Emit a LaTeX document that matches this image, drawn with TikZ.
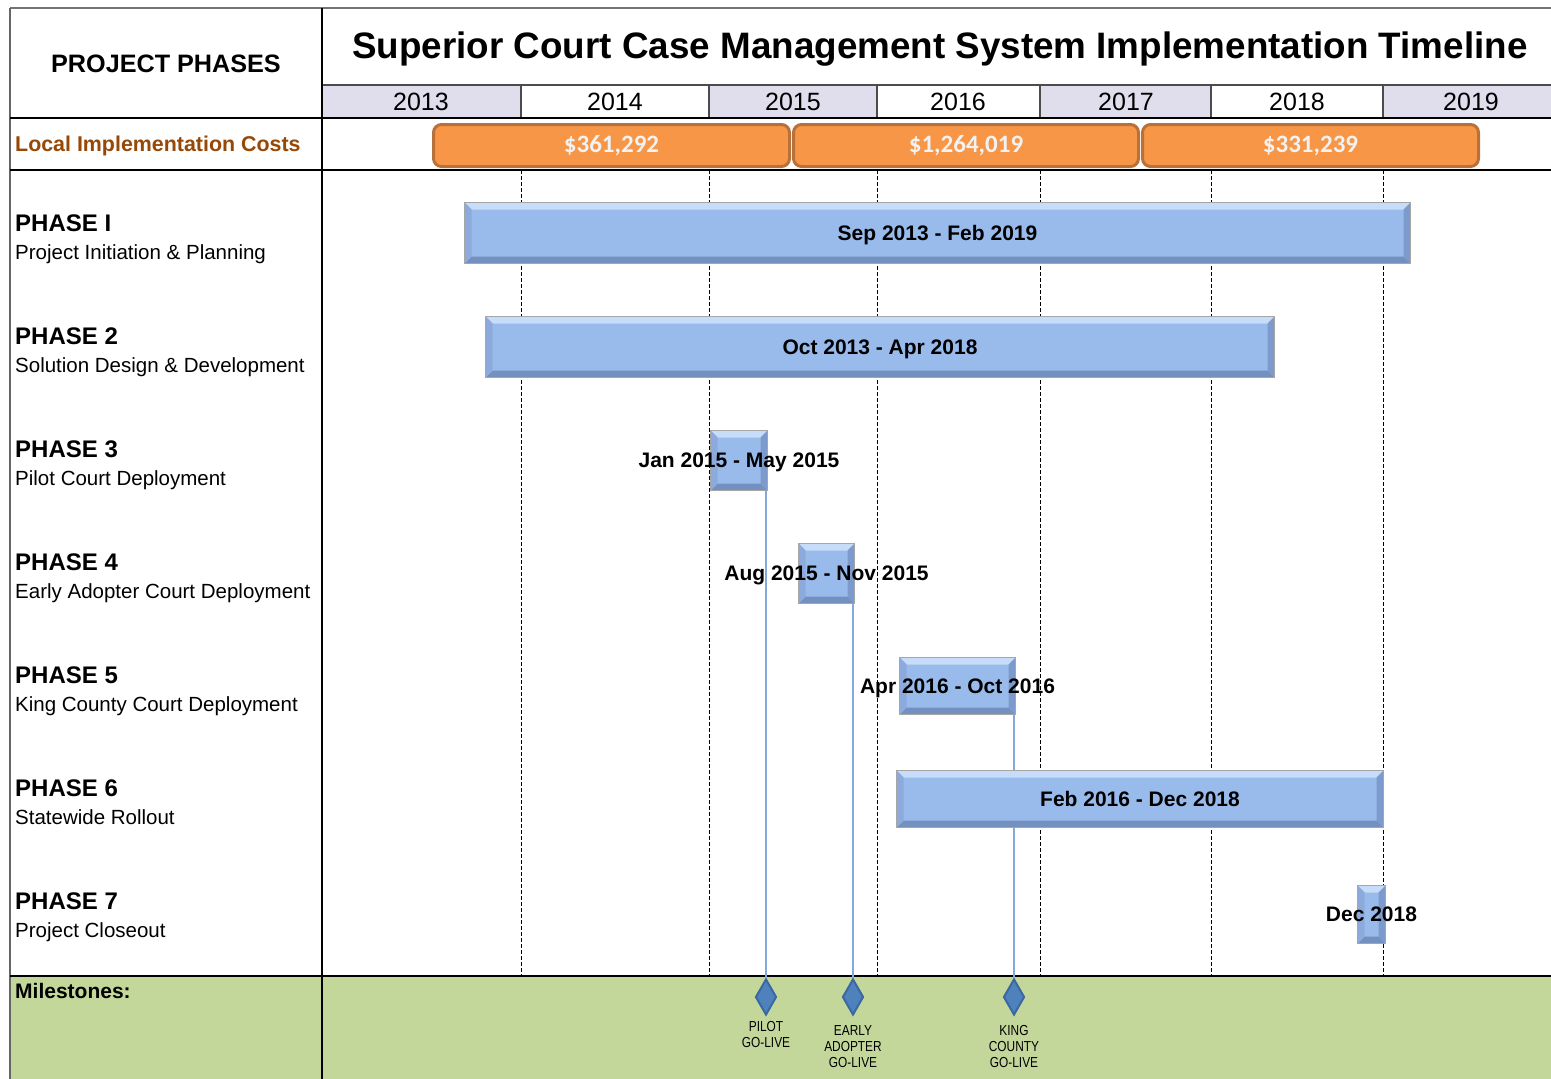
\documentclass[tikz,border=0pt]{standalone}
\usepackage{fontspec}
\setmainfont{Liberation Sans}
\newfontfamily\narrowfont{Liberation Sans}[FakeStretch=0.82]
\newfontfamily\costfont{Carlito}
\usetikzlibrary{shapes.geometric,calc}

\definecolor{yearshade}{HTML}{E0DEEC}
\definecolor{costfill}{HTML}{F79646}
\definecolor{costedge}{HTML}{B8713A}
\definecolor{costtext}{HTML}{F2F2F2}
\definecolor{costlabel}{HTML}{984806}
\definecolor{barblue}{HTML}{99BBEC}
\definecolor{barlight}{HTML}{C6DCF8}
\definecolor{bardark}{HTML}{7390BE}
\definecolor{barleft}{HTML}{8CABDC}
\definecolor{barright}{HTML}{7C9ACB}
\definecolor{msgreen}{HTML}{C4D79B}
\definecolor{msblue}{HTML}{4F81BD}
\definecolor{msedge}{HTML}{3B68A3}
\definecolor{linkblue}{HTML}{82A8DC}

\tikzset{
  rule/.style={line width=1.5pt, black},
  cellrule/.style={line width=1.2pt, black!70},
  grid/.style={line width=1pt, black, dash pattern=on 4pt off 2pt},
  phasebar/.style={draw=black!35, line width=1pt, fill=barblue, inner sep=0pt,
    anchor=north west,
    path picture={
      \coordinate (bvnw) at (path picture bounding box.north west);
      \coordinate (bvne) at (path picture bounding box.north east);
      \coordinate (bvsw) at (path picture bounding box.south west);
      \coordinate (bvse) at (path picture bounding box.south east);
      \fill[barlight] (bvnw) -- (bvne) -- ($(bvne)+(-7pt,-7pt)$) -- ($(bvnw)+(7pt,-7pt)$) -- cycle;
      \fill[bardark] (bvsw) -- (bvse) -- ($(bvse)+(-7pt,7pt)$) -- ($(bvsw)+(7pt,7pt)$) -- cycle;
      \fill[barleft] (bvnw) -- ($(bvnw)+(7pt,-7pt)$) -- ($(bvsw)+(7pt,7pt)$) -- (bvsw) -- cycle;
      \fill[barright] (bvne) -- ($(bvne)+(-7pt,-7pt)$) -- ($(bvse)+(-7pt,7pt)$) -- (bvse) -- cycle;
    }},
  barlabel/.style={font=\bfseries\fontsize{21}{25}\selectfont, inner sep=0pt, anchor=base},
  costbar/.style={draw=costedge, line width=3pt, fill=costfill, rounded corners=8pt,
    inner sep=0pt, anchor=north west, text=costtext,
    font=\costfont\bfseries\fontsize{25}{30}\selectfont},
  yeartext/.style={font=\fontsize{25}{30}\selectfont, inner sep=0pt, anchor=base},
  phasehead/.style={font=\bfseries\fontsize{24}{28}\selectfont, inner sep=0pt, anchor=base west},
  phasesub/.style={font=\fontsize{20.5}{24}\selectfont, inner sep=0pt, anchor=base west},
  milestone/.style={diamond, draw=msedge, line width=2pt, fill=msblue, inner sep=0pt,
    minimum width=21pt, minimum height=36pt},
  mstext/.style={font=\narrowfont\fontsize{14.5}{16}\selectfont, align=center,
    inner sep=0pt, anchor=north},
  link/.style={linkblue, line width=1.5pt},
}

% Bar from (x1,y1) to (x2,y2), in pixel-like units, with a centred label
\newcommand\phasebar[6]{%
  \node[phasebar, minimum width={#4-#2}, minimum height={#5-#3}] (#1) at (#2,#3) {};
  \node[barlabel] (#1-label) at ($(#1.center)+(0,-7pt)$) {#6};
}

\begin{document}
\begin{tikzpicture}[x=1pt, y=-1pt]
  \useasboundingbox (0,0) rectangle (1551,1079);
  \fill[white] (0,0) rectangle (1551,1079);

  % year header band
  \fill[yearshade] (322,85) rectangle (521,118);
  \fill[yearshade] (709,85) rectangle (877,118);
  \fill[yearshade] (1040,85) rectangle (1211,118);
  \fill[yearshade] (1383,85) rectangle (1551,118);
  \draw[cellrule] (322,85) -- (1551,85);
  \foreach \xb in {521,709,877,1040,1211,1383}
    \draw[cellrule] (\xb,85) -- (\xb,118);

  % milestone band
  \fill[msgreen] (10,976) rectangle (1551,1079);

  % year gridlines
  \foreach \xb in {521,709,877,1040,1211,1383}
    \draw[grid] (\xb,170) -- (\xb,976);

  % table frame
  \draw[line width=1.2pt, black!55] (10,8) -- (1551,8);
  \draw[line width=1.2pt, black!60] (10,8) -- (10,1079);
  \draw[rule] (322,8) -- (322,1079);
  \draw[rule] (10,118) -- (1551,118);
  \draw[rule] (10,170) -- (1551,170);
  \draw[rule] (10,976) -- (1551,976);

  % headings
  \node[font=\bfseries\fontsize{25.2}{29}\selectfont, inner sep=0pt, anchor=base] (hdr) at (166,72) {PROJECT PHASES};
  \node[font=\bfseries\fontsize{36.8}{42}\selectfont, inner sep=0pt, anchor=base] (title) at (940,58)
    {Superior Court Case Management System Implementation Timeline};

  \node[yeartext] (y2013) at (421,110) {2013};
  \node[yeartext] (y2014) at (615,110) {2014};
  \node[yeartext] (y2015) at (793,110) {2015};
  \node[yeartext] (y2016) at (958,110) {2016};
  \node[yeartext] (y2017) at (1126,110) {2017};
  \node[yeartext] (y2018) at (1297,110) {2018};
  \node[yeartext] (y2019) at (1471,110) {2019};

  % local implementation costs
  \node[font=\bfseries\fontsize{21.4}{25}\selectfont, text=costlabel, inner sep=0pt, anchor=base west]
    (costs) at (15,151.5) {Local Implementation Costs};
  \node[costbar, minimum width=356pt, minimum height=42pt] (cost1) at (432,123) {\$361,292};
  \node[costbar, minimum width=345pt, minimum height=42pt] (cost2) at (792,123) {\$1,264,019};
  \node[costbar, minimum width=336pt, minimum height=42pt] (cost3) at (1141,123) {\$331,239};

  % phase labels
  \foreach \k/\head/\sub in {0/PHASE I/Project Initiation \& Planning,
                             1/PHASE 2/Solution Design \& Development,
                             2/PHASE 3/Pilot Court Deployment,
                             3/PHASE 4/Early Adopter Court Deployment,
                             4/PHASE 5/King County Court Deployment,
                             5/PHASE 6/Statewide Rollout,
                             6/PHASE 7/Project Closeout} {
    \node[phasehead] (head\k) at (15,{231+113*\k}) {\head};
    \node[phasesub] (sub\k) at (15,{259+113*\k}) {\sub};
  }

  % milestone markers
  \node[milestone] (m1) at (766,997) {};
  \node[milestone] (m2) at (853,997) {};
  \node[milestone] (m3) at (1014,997) {};

  % phase bars
  \phasebar{p1}{464}{202}{1410}{263}{Sep 2013 - Feb 2019}
  \phasebar{p2}{485}{316}{1274}{377}{Oct 2013 - Apr 2018}

  % go-live links (drawn before the short bars)
  \draw[link] (766,490) -- (m1.north);
  \draw[link] (853,603) -- (m2.north);
  \draw[link] (1014,714) -- (m3.north);

  \phasebar{p3}{710}{430}{767}{490}{Jan 2015 - May 2015}
  \phasebar{p4}{798}{543}{854}{603}{Aug 2015 - Nov 2015}
  \phasebar{p5}{899}{657}{1015}{714}{Apr 2016 - Oct 2016}
  \phasebar{p6}{896}{770}{1383}{827}{Feb 2016 - Dec 2018}
  \phasebar{p7}{1357}{885}{1385}{943}{Dec 2018}

  % milestones
  \node[font=\bfseries\fontsize{21}{25}\selectfont, inner sep=0pt, anchor=base west] (mslabel) at (15,998) {Milestones:};
  \node[mstext] (m1t) at (766,1021) {PILOT\\GO-LIVE};
  \node[mstext] (m2t) at (853,1025) {EARLY\\ADOPTER\\GO-LIVE};
  \node[mstext] (m3t) at (1014,1025) {KING\\COUNTY\\GO-LIVE};
\end{tikzpicture}
\end{document}
